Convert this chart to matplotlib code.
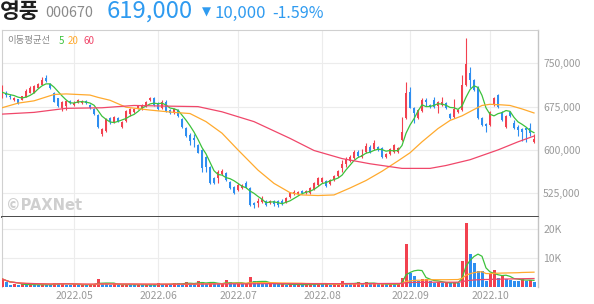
import matplotlib
matplotlib.use("Agg")
import matplotlib.pyplot as plt
import numpy as np
import pandas as pd

plt.rcParams['font.family'] = ['Noto Sans CJK KR', 'DejaVu Sans']

# ---------------- data (prices in thousand KRW, volume in thousand shares) ----------------
opens = [693, 699, 693, 686, 688, 686, 692, 699, 699, 707, 712, 725, 714, 699, 690, 673, 676, 685, 678, 681,
         681, 685, 678, 671, 661, 628, 633, 655, 648, 655, 640, 650, 662, 666, 673, 671, 676, 686, 690, 681,
         673, 683, 669, 664, 669, 654, 638, 626, 621, 609, 600, 588, 570, 551, 551, 558, 560, 544, 536, 531,
         534, 543, 534, 508, 508, 510, 512, 508, 512, 512, 512, 510, 519, 524, 524, 529, 525, 525, 532, 539,
         544, 546, 541, 548, 555, 569, 576, 581, 586, 596, 588, 596, 605, 602, 605, 603, 588, 593, 596, 596,
         617, 655, 700, 673, 655, 667, 686, 678, 686, 676, 678, 681, 662, 657, 666, 669, 712, 733, 721, 709,
         655, 645, 643, 678, 695, 666, 640, 666, 647, 640, 636, 638, 638, 614]
highs = [712, 702, 697, 692, 688, 693, 706, 710, 712, 716, 726, 730, 716, 700, 690, 685, 686, 686, 685, 688,
         686, 686, 680, 673, 662, 638, 655, 657, 659, 657, 650, 669, 673, 673, 678, 680, 685, 692, 692, 683,
         686, 686, 671, 673, 671, 655, 640, 629, 628, 610, 602, 590, 572, 553, 565, 567, 562, 546, 538, 543,
         541, 546, 536, 510, 517, 520, 513, 513, 513, 513, 515, 519, 527, 531, 529, 531, 531, 536, 544, 553,
         553, 548, 550, 557, 565, 583, 588, 591, 600, 600, 602, 612, 609, 617, 607, 605, 595, 603, 610, 605,
         657, 718, 709, 674, 671, 690, 690, 680, 691, 685, 692, 683, 664, 688, 671, 730, 794, 744, 723, 711,
         657, 647, 667, 692, 697, 667, 661, 667, 652, 643, 638, 640, 647, 627]
lows = [690, 692, 688, 685, 680, 686, 692, 699, 699, 707, 712, 718, 706, 683, 674, 667, 669, 680, 676, 681,
        680, 680, 671, 661, 638, 624, 631, 645, 647, 648, 638, 648, 659, 664, 671, 669, 674, 685, 676, 669,
        671, 666, 662, 662, 657, 638, 622, 609, 605, 595, 562, 562, 541, 541, 543, 557, 546, 532, 524, 529,
        532, 534, 503, 499, 501, 508, 503, 506, 503, 501, 505, 508, 517, 522, 522, 524, 524, 524, 531, 538,
        543, 536, 539, 546, 553, 562, 570, 579, 584, 588, 586, 595, 595, 600, 598, 586, 586, 591, 595, 595,
        615, 654, 673, 647, 654, 665, 676, 673, 673, 664, 676, 671, 654, 655, 664, 667, 711, 707, 702, 654,
        641, 631, 641, 676, 673, 650, 638, 657, 636, 624, 615, 614, 624, 612]
closes = [700, 695, 692, 690, 680, 693, 702, 707, 711, 714, 721, 719, 707, 683, 676, 683, 685, 681, 681, 686,
          685, 681, 673, 662, 640, 636, 654, 650, 657, 650, 648, 667, 671, 671, 676, 678, 683, 690, 678, 671,
          683, 667, 664, 671, 659, 640, 624, 615, 617, 595, 569, 570, 543, 543, 562, 564, 548, 534, 525, 539,
          539, 536, 505, 505, 512, 515, 505, 512, 506, 505, 506, 517, 525, 527, 527, 525, 529, 534, 543, 551,
          551, 538, 548, 555, 564, 576, 584, 588, 596, 590, 591, 607, 596, 612, 600, 588, 593, 602, 609, 603,
          631, 699, 673, 664, 669, 686, 683, 674, 674, 683, 683, 673, 655, 671, 669, 712, 749, 721, 704, 655,
          643, 641, 666, 690, 674, 652, 659, 659, 638, 635, 631, 635, 629, 619]
volumes = [2.8, 1.7, 0.8, 1.0, 0.8, 0.9, 0.7, 0.9, 0.8, 0.7, 0.9, 0.8, 0.7, 1.4, 1.3, 1.4, 0.8, 0.7, 0.9, 0.8,
           0.9, 0.7, 0.8, 1.0, 2.8, 1.2, 1.0, 0.8, 0.9, 0.7, 0.8, 1.0, 0.8, 0.7, 0.8, 0.7, 0.8, 0.7, 0.6, 1.4,
           0.8, 0.9, 0.8, 1.4, 1.3, 1.0, 1.8, 1.0, 0.9, 2.2, 1.8, 1.0, 1.8, 1.0, 0.9, 1.0, 2.5, 1.6, 1.0, 1.2,
           0.9, 1.0, 3.4, 2.2, 1.8, 1.2, 1.0, 1.3, 1.0, 0.9, 1.0, 0.8, 0.9, 0.8, 0.9, 0.7, 0.9, 1.0, 0.8, 1.5,
           0.9, 1.0, 0.8, 0.9, 1.0, 2.2, 1.0, 0.9, 1.0, 1.8, 1.0, 1.8, 1.0, 1.1, 0.9, 1.0, 0.9, 1.0, 0.9, 1.1,
           3.2, 14.8, 4.9, 3.8, 2.2, 2.6, 2.9, 2.0, 1.4, 1.6, 1.3, 1.5, 1.3, 1.6, 1.4, 9.1, 22.2, 11.4, 8.4, 5.5,
           5.4, 2.2, 4.5, 5.9, 3.1, 4.0, 2.8, 2.5, 2.2, 2.1, 2.9, 2.2, 2.5, 1.8]

ma20_idx = [0, 4, 8, 13, 16, 22, 24, 27, 31, 37, 43, 47, 51, 55, 59, 64, 68, 72, 75, 79, 83, 87, 91, 95, 99,
            102, 105, 109, 112, 115, 118, 120, 122, 125, 127, 130, 133]
ma20_val = [673, 681, 685, 696, 697, 695, 691, 686, 674, 669, 665, 663, 649, 629, 600, 565, 542, 526, 522, 521,
            522, 534, 547, 563, 581, 595, 614, 637, 651, 659, 670, 677, 679, 678, 677, 671, 664]
ma60_idx = [0, 8, 16, 25, 33, 40, 49, 55, 63, 72, 78, 85, 92, 100, 107, 111, 117, 124, 129, 133]
ma60_val = [662, 665, 672, 673, 677, 676, 675, 666, 649, 620, 599, 585, 576, 568, 568, 573, 583, 600, 614, 624]

month_idx = [18, 39, 59, 80, 102, 122]
month_labels = ['2022.05', '2022.06', '2022.07', '2022.08', '2022.09', '2022.10']
price_ticks = [525, 600, 675, 750]
vol_ticks = [10, 20]

stock_name = '영풍'
stock_code = '000670'
last_price = '619,000'
change_abs = '10,000'
change_pct = '-1.59%'

# ---------------- styling ----------------
RED = '#f2414f'
BLUE = '#2e8ef0'
GREEN = '#3cc23c'
ORANGE = '#ffaa2e'
PINK = '#f0476a'
GRID = '#ececec'
TXT = '#9a9a9a'

W, H = 594, 304
fig = plt.figure(figsize=(W / 100, H / 100), dpi=100)
fig.patch.set_facecolor('white')


def rect(x0, y0, x1, y1):
    return [x0 / W, 1 - y1 / H, (x1 - x0) / W, (y1 - y0) / H]


axp = fig.add_axes(rect(1.5, 30, 537.5, 217))
axv = fig.add_axes(rect(1.5, 217, 537.5, 287))

n = len(closes)
x = np.arange(n)
XL = (-0.125, 133.875)

# ---- price candles ----
for i in x:
    o, h, l, c = opens[i], highs[i], lows[i], closes[i]
    col = RED if c >= o else BLUE
    axp.vlines(i, l, h, color=col, lw=0.8, zorder=3)
    body = max(abs(c - o), 0.9)
    axp.bar(i, body, bottom=min(o, c), width=0.74, color=col, lw=0, zorder=3)

ma5 = pd.Series(closes, dtype=float).rolling(5, min_periods=1).mean()
axp.plot(x, ma5, color=GREEN, lw=0.9, zorder=4)
axp.plot(ma20_idx, ma20_val, color=ORANGE, lw=0.9, zorder=4)
axp.plot(ma60_idx, ma60_val, color=PINK, lw=0.9, zorder=4)

axp.set_xlim(*XL)
axp.set_ylim(483.8, 807.7)
axp.set_yticks(price_ticks)
axp.set_yticklabels([f'{v * 1000:,}' for v in price_ticks])
axp.yaxis.tick_right()
axp.tick_params(axis='y', length=0, pad=4, labelsize=7.5, labelcolor=TXT)
axp.set_xticks(month_idx)
axp.tick_params(axis='x', length=0, labelbottom=False)
axp.grid(True, color=GRID, lw=0.8, zorder=0)
axp.set_axisbelow(True)
for s in ['top', 'left']:
    axp.spines[s].set_color('#d0d0d0')
    axp.spines[s].set_linewidth(0.8)
axp.spines['right'].set_color('#c4c4c4')
axp.spines['right'].set_linewidth(1.0)
axp.spines['bottom'].set_color('#3a3a3a')
axp.spines['bottom'].set_linewidth(1.3)

axp.text(0.008, 0.06, '\u00a9PAXNet', transform=axp.transAxes, fontsize=10.5, fontweight='bold',
         color='#cfcfcf', family=['DejaVu Sans'], va='center', ha='left', zorder=1)

# ---- volume ----
vcols = [RED] + [RED if volumes[i] >= volumes[i - 1] else BLUE for i in range(1, n)]
axv.bar(x, volumes, width=0.75, color=vcols, lw=0, zorder=3)
vs = pd.Series(volumes, dtype=float)
axv.plot(x, vs.rolling(5, min_periods=1).mean(), color=GREEN, lw=0.9, zorder=4)
axv.plot(x, vs.rolling(20, min_periods=1).mean(), color=ORANGE, lw=0.9, zorder=4)
axv.plot(x, vs.rolling(60, min_periods=1).mean(), color=PINK, lw=0.9, zorder=4)

axv.set_xlim(*XL)
axv.set_ylim(0, 24.1)
axv.set_yticks(vol_ticks)
axv.set_yticklabels([f'{v}K' for v in vol_ticks])
axv.yaxis.tick_right()
axv.tick_params(axis='y', length=0, pad=4, labelsize=7.5, labelcolor=TXT)
axv.set_xticks(month_idx)
axv.set_xticklabels(month_labels)
axv.tick_params(axis='x', length=0, pad=3, labelsize=7.5, labelcolor=TXT)
axv.grid(True, color=GRID, lw=0.8, zorder=0)
axv.set_axisbelow(True)
axv.spines['top'].set_visible(False)
axv.spines['bottom'].set_visible(False)
axv.spines['left'].set_color('#d0d0d0')
axv.spines['left'].set_linewidth(0.8)
axv.spines['right'].set_color('#c4c4c4')
axv.spines['right'].set_linewidth(1.0)


# ---- header ----
def ftext(px, py, s, **kw):
    fig.text(px / W, 1 - py / H, s, va='center', ha='left', **kw)


ftext(0, 12, stock_name, fontsize=15.5, fontweight='bold', color='#1e1e1e')
ftext(45, 13, stock_code, fontsize=10.3, color='#8a8a8a')
ftext(107, 11.5, last_price, fontsize=17.2, color='#2f9bf0')
ftext(202, 12.5, '\u25bc', fontsize=8.5, color='#2f9bf0', family=['DejaVu Sans'])
ftext(215, 13, change_abs, fontsize=12, color='#2f9bf0')
ftext(272, 13, change_pct, fontsize=11.5, color='#2f9bf0')

ftext(7, 41, '이동평균선', fontsize=6.8, color='#8a8a8a')
ftext(59, 41, '5', fontsize=7, color=GREEN)
ftext(68, 41, '20', fontsize=7, color=ORANGE)
ftext(83, 41, '60', fontsize=7, color=PINK)

fig.savefig('out.png', dpi=100)
